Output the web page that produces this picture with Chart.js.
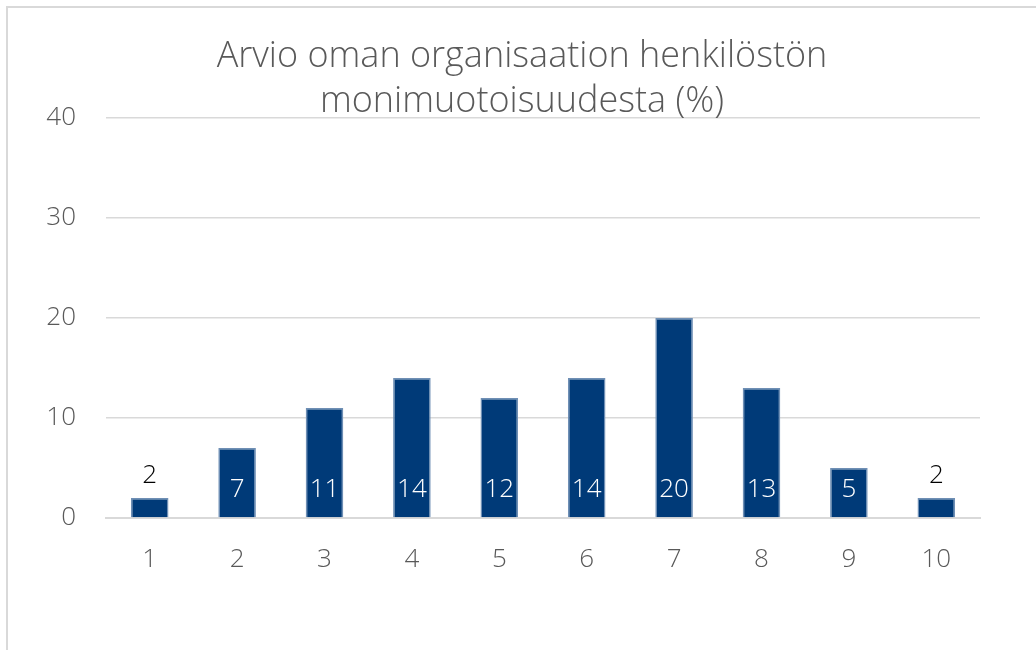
<!DOCTYPE html>
<html>
<head>
<meta charset="utf-8">
<script src="https://cdn.jsdelivr.net/npm/chart.js@4.4.0/dist/chart.umd.min.js"></script>
<style>
  html, body { margin: 0; padding: 0; background: #fff; overflow: hidden; }
  #frame {
    position: absolute; left: 6px; top: 6px;
    width: 1100px; height: 700px;
    border: 2px solid #d9d9d9;
    box-sizing: border-box;
  }
  #wrap { position: absolute; left: 0; top: 0; width: 1036px; height: 650px; }
</style>
</head>
<body>
<div id="frame"></div>
<div id="wrap"><canvas id="chart"></canvas></div>
<script>
// data
const titleLines = ['Arvio oman organisaation henkilöstön', 'monimuotoisuudesta (%)'];
const categories = ['1', '2', '3', '4', '5', '6', '7', '8', '9', '10'];
const shares = [2, 7, 11, 14, 12, 14, 20, 13, 5, 2];
const yTicks = [0, 10, 20, 30, 40];

const FONT = "'Open Sans', 'Noto Sans', sans-serif";

/* value labels: white inside the bar foot, black above small bars */
const valueLabels = {
  id: 'valueLabels',
  afterDatasetsDraw(chart) {
    const ctx = chart.ctx;
    const meta = chart.getDatasetMeta(0);
    ctx.save();
    ctx.font = '300 26px ' + FONT;
    ctx.textAlign = 'center';
    ctx.textBaseline = 'middle';
    meta.data.forEach((bar, i) => {
      const v = shares[i];
      if (v < 4) {
        ctx.fillStyle = '#000000';
        ctx.fillText(String(v), bar.x, bar.y - 22);
      } else {
        ctx.fillStyle = '#ffffff';
        ctx.fillText(String(v), bar.x, bar.base - 28);
      }
    });
    ctx.restore();
  }
};

/* title sits a bit left of the plot centre and overlaps the top gridline, so draw it by hand */
const chartTitle = {
  id: 'chartTitle',
  afterDraw(chart) {
    const ctx = chart.ctx;
    ctx.save();
    ctx.font = '300 36px ' + FONT;
    ctx.fillStyle = '#595959';
    ctx.textAlign = 'center';
    ctx.textBaseline = 'middle';
    titleLines.forEach((line, i) => ctx.fillText(line, 522, 57 + i * 45));
    ctx.restore();
  }
};

new Chart(document.getElementById('chart'), {
  type: 'bar',
  data: {
    labels: categories,
    datasets: [{
      data: shares,
      backgroundColor: '#003a78',
      borderColor: '#6f8fb5',
      borderWidth: 1.5,
      barPercentage: 0.43,
      categoryPercentage: 1
    }]
  },
  options: {
    responsive: true,
    maintainAspectRatio: false,
    animation: false,
    layout: { padding: { left: 0, right: 56, top: 118, bottom: 72 } },
    plugins: {
      legend: { display: false },
      tooltip: { enabled: false },
      title: { display: false }
    },
    scales: {
      x: {
        afterFit(axis) { axis.height = 60; },
        grid: { display: false },
        border: { color: '#d9d9d9', width: 2 },
        ticks: { color: '#595959', font: { family: FONT, size: 26, weight: '300' }, padding: 18 }
      },
      y: {
        min: 0,
        max: 40,
        afterFit(axis) { axis.width = 106; },
        afterBuildTicks(axis) { axis.ticks = yTicks.map(v => ({ value: v })); },
        grid: { color: '#d9d9d9', lineWidth: 1.5, drawTicks: false },
        border: { display: false },
        ticks: { color: '#595959', font: { family: FONT, size: 26, weight: '300' }, padding: 30 }
      }
    }
  },
  plugins: [valueLabels, chartTitle]
});
</script>
</body>
</html>
